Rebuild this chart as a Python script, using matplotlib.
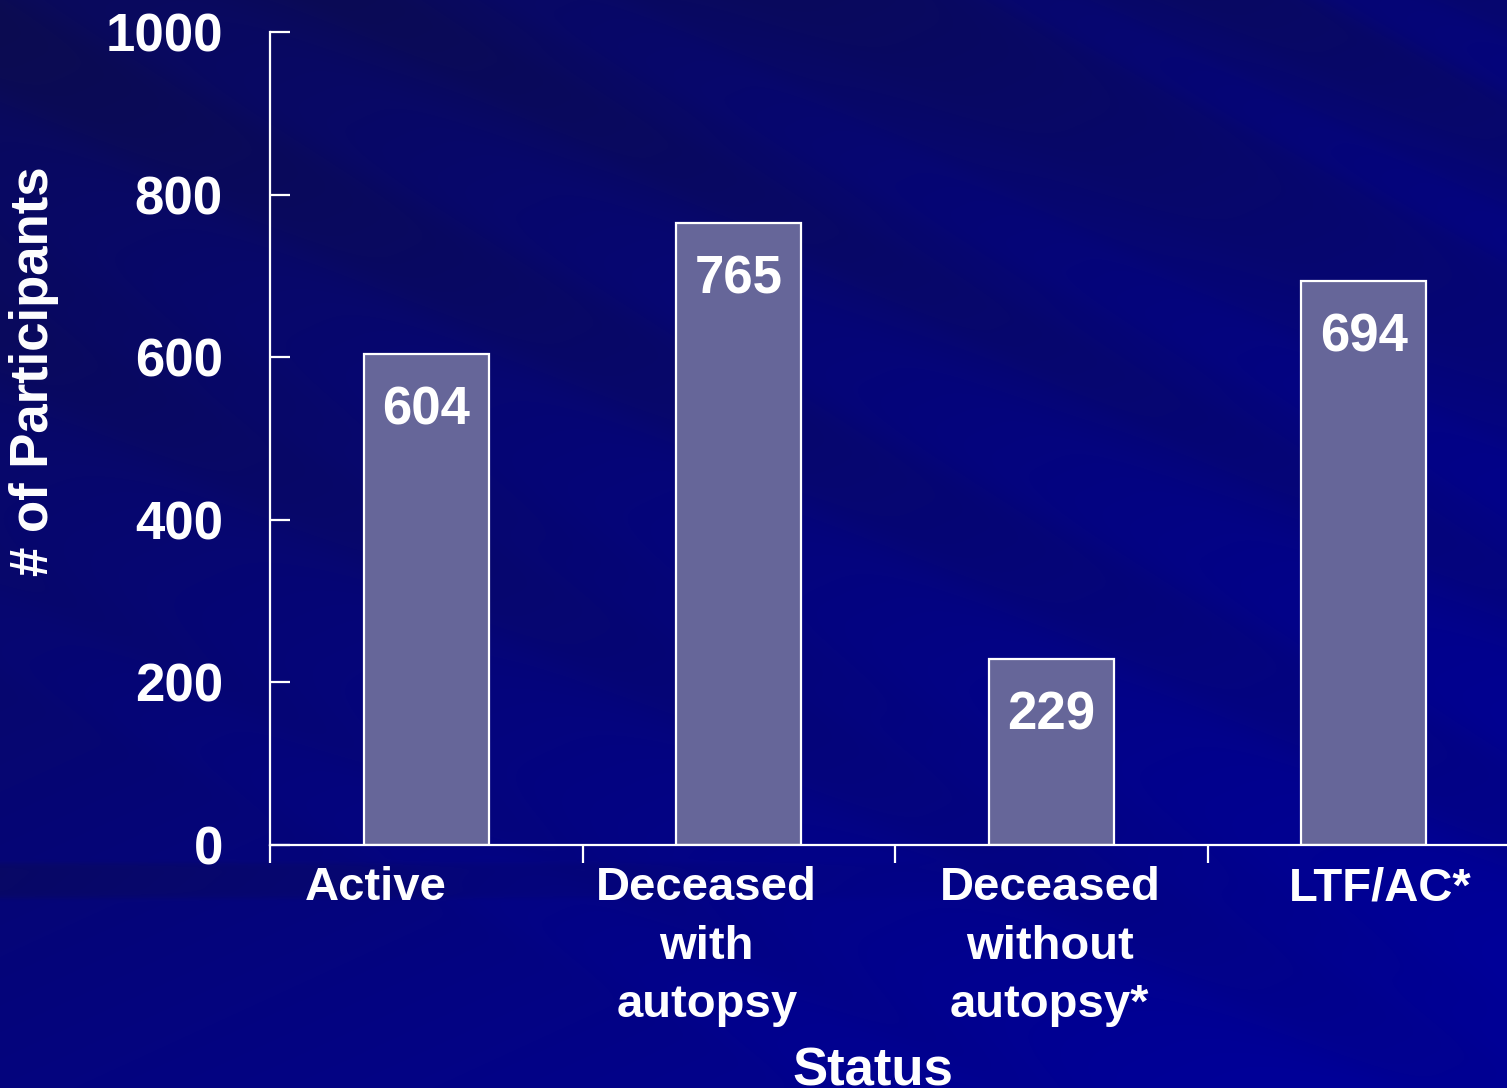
import numpy as np
import matplotlib
matplotlib.use("Agg")
import matplotlib.pyplot as plt
from matplotlib.transforms import blended_transform_factory, ScaledTranslation

# ---- data ----
categories = ["Active", "Deceased\nwith\nautopsy", "Deceased\nwithout\nautopsy*", "LTF/AC*"]
values = [604, 765, 229, 694]
yticks = [0, 200, 400, 600, 800, 1000]
ylabel = "# of Participants"
xlabel = "Status"

# ---- style ----
FONT = "Liberation Sans"
plt.rcParams["font.family"] = [FONT, "DejaVu Sans"]
plt.rcParams["font.weight"] = "bold"
W, H = 1507, 1088
DPI = 100
BAR = "#666699"
label_dx_pt = [-36, -23, -1, 12]   # horizontal nudges of category labels (points)

fig = plt.figure(figsize=(W / DPI, H / DPI), dpi=DPI)

# ---- background: dark-blue gradient with diagonal streaks ----
yy, xx = np.mgrid[0:H, 0:W].astype(float)
t = 0.10 + 0.55 * yy / H + 0.35 * xx / W
p = -0.45 * xx + 0.89 * yy  # coordinate across the streaks
bands = np.zeros_like(p)
for c, w, a in [(-620, 30, 0.12), (-560, 40, -0.10), (-470, 25, 0.10), (-380, 60, -0.08),
                (-250, 35, 0.10), (-160, 30, -0.08), (-60, 50, 0.09), (40, 45, -0.07),
                (150, 60, 0.08), (300, 40, -0.06), (420, 70, 0.06), (560, 40, 0.06)]:
    bands += a * np.exp(-((p - c) / w) ** 4)
t = np.clip(t + bands, 0, 1)
# darker horizontal band behind the category labels
t -= 0.22 * np.exp(-((yy - 880) / 18) ** 8) * np.clip(1 - xx / 1100, 0, 1)
t = np.clip(t, 0, 1)
dark = np.array([12, 12, 78]) / 255
bright = np.array([0, 0, 152]) / 255
img = dark[None, None, :] + t[..., None] * (bright - dark)[None, None, :]
bg = fig.add_axes([0, 0, 1, 1], zorder=0)
bg.imshow(img, aspect="auto", extent=(0, 1, 0, 1), origin="upper")
bg.set_axis_off()

# ---- main axes ----
x0, x1 = 270, 1520
y0, y1 = 845, 32
ax = fig.add_axes([x0 / W, 1 - y0 / H, (x1 - x0) / W, (y0 - y1) / H], zorder=1)
ax.set_facecolor("none")

x = np.arange(len(categories))
ax.bar(x, values, width=0.4, color=BAR, edgecolor="white", linewidth=1.6, zorder=2)

ax.set_xlim(-0.5, len(categories) - 0.5)
ax.set_ylim(0, 1000)

for s in ["top", "right"]:
    ax.spines[s].set_visible(False)
for s in ["left", "bottom"]:
    ax.spines[s].set_color("white")
    ax.spines[s].set_linewidth(1.6)

ax.set_yticks(yticks)
ax.set_yticklabels([str(v) for v in yticks])
ax.tick_params(axis="y", direction="in", length=14.4, width=1.6, color="white",
               labelcolor="white", labelsize=38, pad=34)
for lab in ax.get_yticklabels():
    lab.set_fontweight("bold")

ax.set_xticks(x)
ax.set_xticklabels([])
ax.tick_params(axis="x", which="major", length=0)
ax.set_xticks(np.arange(len(categories)) - 0.5, minor=True)
ax.tick_params(axis="x", which="minor", direction="out", length=13, width=1.6, color="white")

# category labels
trans = blended_transform_factory(ax.transData, ax.transAxes)
for i, (cat, dx) in enumerate(zip(categories, label_dx_pt)):
    tr = trans + ScaledTranslation(dx / 72, 0, fig.dpi_scale_trans)
    ax.text(i, -0.026, cat, transform=tr, ha="center", va="top", color="white",
            fontsize=34, fontweight="bold", linespacing=1.43, clip_on=False)

# value labels inside bars
for i, v in enumerate(values):
    ax.annotate(str(v), xy=(i, v), xytext=(0, -41), textcoords="offset points",
                ha="center", va="center", color="white", fontsize=38, fontweight="bold")

# axis titles
fig.text(34 / W, 1 - 371 / H, ylabel, rotation=90, ha="center", va="center",
         color="white", fontsize=38, fontweight="bold")
fig.text(873 / W, 3 / H, xlabel, ha="center", va="baseline",
         color="white", fontsize=38, fontweight="bold")

fig.savefig("out.png", dpi=DPI)
